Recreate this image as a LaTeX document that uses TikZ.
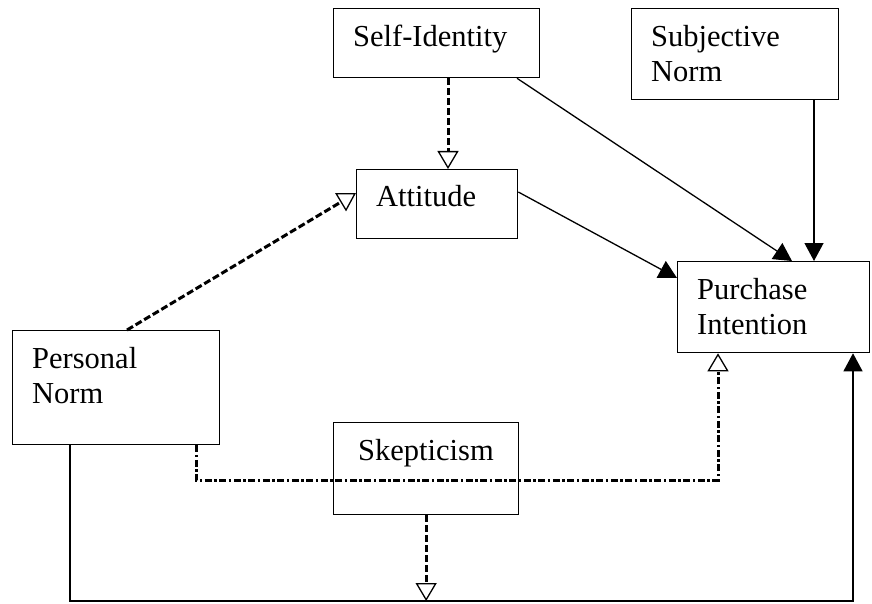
\documentclass[tikz,border=0pt]{standalone}
\usepackage{fontspec}
\setmainfont{Liberation Serif}
\usetikzlibrary{arrows.meta}
\begin{document}
\begin{tikzpicture}[x=1pt,y=-1pt,
  box/.style={draw, line width=1.3pt, inner sep=0pt, anchor=north west},
  lbl/.style={anchor=base west, inner sep=0pt, align=left, text width=200pt,
    font=\fontsize{30.5}{35}\selectfont},
  filledtip/.style={-{Triangle[length=18pt,width=19pt]}},
  solidarrow/.style={line width=1.3pt, filledtip},
  opentip/.style={-{Triangle[open,length=18pt,width=21pt,line width=1.3pt]}},
  dasharrow/.style={line width=3pt, dash pattern=on 7pt off 3pt, opentip},
  dotdasharrow/.style={line width=3pt, dash pattern=on 7pt off 2.5pt on 2.5pt off 2.5pt, opentip},
  plainline/.style={line width=1.3pt}]
\useasboundingbox (0,0) rectangle (872,604);

% boxes
\node[box, minimum width=206pt, minimum height=69pt] (si) at (333,8) {};
\node[box, minimum width=207pt, minimum height=91pt] (sn) at (631,8) {};
\node[box, minimum width=161pt, minimum height=69pt] (at) at (356,169) {};
\node[box, minimum width=207pt, minimum height=114pt] (pn) at (12,330) {};
\node[box, minimum width=185pt, minimum height=92pt] (sk) at (333,422) {};
\node[box, minimum width=192pt, minimum height=91pt] (pi) at (677,261) {};

% labels
\node[lbl] (si-t) at (353,47) {Self-Identity};
\node[lbl] (sn-t) at (651,47) {Subjective\\Norm};
\node[lbl] (at-t) at (376,207) {Attitude};
\node[lbl] (pn-t) at (32,368) {Personal\\Norm};
\node[lbl] (sk-t) at (358,460) {Skepticism};
\node[lbl] (pi-t) at (697,299) {Purchase\\Intention};

% connectors
\draw[dasharrow] (448,0 |- si.south) -- (448,0 |- at.north);
\draw[solidarrow] (517,0 |- si.south) -- (792,0 |- pi.north);
\draw[solidarrow] (814,0 |- sn.south) -- (814,0 |- pi.north);
\draw[solidarrow] (at.east |- 0,192) -- (pi.west |- 0,278);
\draw[dasharrow] (127,0 |- pn.north) -- (at.west |- 0,193);
\draw[dotdasharrow] (196,0 |- pn.south) -- (196,480) -- (718,480) -- (718,0 |- pi.south);
\draw[plainline, filledtip] (70,0 |- pn.south) -- (70,601) -- (853,601) -- (853,0 |- pi.south);
\draw[dasharrow] (sk.south) -- (sk.south |- 0,601);
\end{tikzpicture}
\end{document}
